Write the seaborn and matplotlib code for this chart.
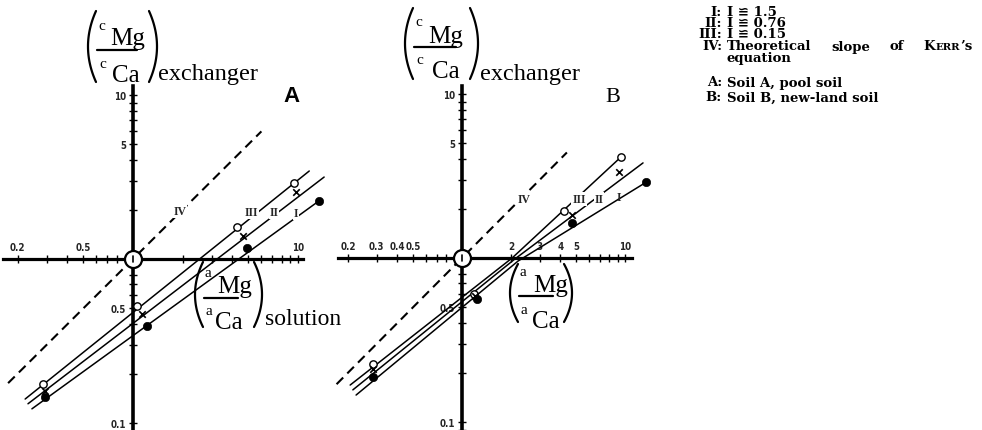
import numpy as np
import matplotlib
matplotlib.use("Agg")
import matplotlib.pyplot as plt
import seaborn as sns
from matplotlib.ticker import FixedLocator, NullFormatter

sns.set_style("white")
plt.rcParams["font.family"] = ["DejaVu Sans"]

W, H = 982, 431

# ---------------- Soil A (pool soil) ----------------
a_iii_x = [0.285, 1.06, 4.27, 9.46]
a_iii_y = [0.173, 0.517, 1.57, 2.91]
a_ii_x = [0.293, 1.13, 4.64, 9.72]
a_ii_y = [0.157, 0.462, 1.38, 2.56]
a_i_x = [0.293, 1.22, 4.91, 13.4]
a_i_y = [0.144, 0.39, 1.17, 2.26]

a_iii_line_x = [0.222, 11.7]
a_iii_line_y = [0.140, 3.44]
a_ii_line_x = [0.231, 14.4]
a_ii_line_y = [0.131, 3.16]
a_i_line_x = [0.244, 13.4]
a_i_line_y = [0.122, 2.26]
a_iv_line_x = [0.175, 6.0]
a_iv_line_y = [0.175, 6.0]

a_xticks = [0.2, 0.5, 10]
a_xticklabels = ["0.2", "0.5", "10"]

# ---------------- Soil B (new-land soil) ----------------
b_iii_x = [0.284, 1.18, 4.22, 9.45]
b_iii_y = [0.226, 0.60, 1.93, 4.13]
b_ii_x = [0.284, 1.20, 4.73, 9.19]
b_ii_y = [0.21, 0.586, 1.83, 3.35]
b_i_x = [0.284, 1.24, 4.73, 13.5]
b_i_y = [0.188, 0.56, 1.63, 2.9]

# each B line is drawn as two straight pieces (low / high ratio)
b_iii_line_x = [0.206, 2.03, 9.45]
b_iii_line_y = [0.168, 1.0, 4.13]
b_ii_line_x = [0.214, 2.11, 12.9]
b_ii_line_y = [0.157, 0.986, 3.8]
b_i_line_x = [0.224, 2.21, 13.5]
b_i_line_y = [0.146, 0.959, 2.9]
b_iv_line_x = [0.17, 4.4]
b_iv_line_y = [0.17, 4.4]

b_xticks = [0.2, 0.3, 0.4, 0.5, 2, 3, 4, 5, 10]
b_xticklabels = ["0.2", "0.3", "0.4", "0.5", "2", "3", "4", "5", "10"]

yticks = [0.1, 0.5, 5, 10]
yticklabels = ["0.1", "0.5", "5", "10"]

fig = plt.figure(figsize=(W / 100, H / 100), dpi=100)
fig.patch.set_facecolor("white")

tick_font = dict(fontsize=7, fontweight="bold", fontstretch="condensed",
                 family=["DejaVu Sans"])


def minor_positions(lo, hi):
    out = []
    for e in range(-2, 3):
        for m in range(2, 10):
            v = m * 10.0 ** e
            if lo <= v <= hi:
                out.append(v)
    return out


def make_panel(left_px, right_px, origin, decade, xspan, yspan, xt, xtl):
    ox, oy = origin
    dx, dy = decade
    ax = fig.add_axes([left_px / W, 0, (right_px - left_px) / W, 1])
    ax.set_xscale("log")
    ax.set_yscale("log")
    ax.patch.set_alpha(0)
    xlim = (10 ** ((left_px - ox) / dx), 10 ** ((right_px - ox) / dx))
    ylim = (10 ** ((oy - H) / dy), 10 ** (oy / dy))
    ax.set_xlim(*xlim)
    ax.set_ylim(*ylim)
    for s in ("right", "bottom"):
        ax.spines[s].set_visible(False)
    ax.spines["left"].set_position(("data", 1.0))
    ax.spines["top"].set_position(("data", 1.0))
    ax.spines["left"].set_linewidth(2.6)
    ax.spines["top"].set_linewidth(2.3)
    ax.spines["left"].set_color("k")
    ax.spines["top"].set_color("k")
    xb = (10 ** ((xspan[0] - ox) / dx), 10 ** ((xspan[1] - ox) / dx))
    yb = (10 ** ((oy - yspan[1]) / dy), 10 ** ((oy - yspan[0]) / dy))
    ax.spines["top"].set_bounds(*xb)
    ax.spines["left"].set_bounds(*yb)
    ax.xaxis.set_ticks_position("top")
    ax.yaxis.set_ticks_position("left")
    ax.set_xticks(xt)
    ax.set_xticklabels(xtl, **tick_font)
    ax.set_yticks(yticks)
    ax.set_yticklabels(yticklabels, **tick_font)
    ax.xaxis.set_minor_locator(FixedLocator(minor_positions(*xb)))
    ax.yaxis.set_minor_locator(FixedLocator(minor_positions(*yb)))
    ax.xaxis.set_minor_formatter(NullFormatter())
    ax.yaxis.set_minor_formatter(NullFormatter())
    ax.tick_params(which="both", direction="inout", length=6, width=1,
                   color="k", pad=2)
    return ax


def draw_series(ax, lines, points, iv):
    lx, ly = iv
    sns.lineplot(x=lx, y=ly, ax=ax, color="k", lw=1.5,
                 linestyle=(0, (4.5, 2.8)), sort=False, estimator=None)
    for x, y in lines:
        sns.lineplot(x=x, y=y, ax=ax, color="k", lw=1.1, sort=False,
                     estimator=None)
    (iii_x, iii_y), (ii_x, ii_y), (i_x, i_y) = points
    sns.scatterplot(x=iii_x, y=iii_y, ax=ax, marker="o", s=28,
                    facecolor="white", edgecolor="k", linewidth=1.0, zorder=3)
    sns.scatterplot(x=ii_x, y=ii_y, ax=ax, marker="x", s=22, color="k",
                    linewidth=1.2, zorder=3)
    sns.scatterplot(x=i_x, y=i_y, ax=ax, marker="o", s=36, color="k",
                    edgecolor="k", zorder=3)
    # origin ring where the two axes cross
    sns.scatterplot(x=[1.0], y=[1.0], ax=ax, marker="o", s=150,
                    facecolor="white", edgecolor="k", linewidth=1.6, zorder=4)
    ax.plot([1.0, 1.0], [0.96, 1.04], color="k", lw=1.2, zorder=5)
    ax.set_xlabel("")
    ax.set_ylabel("")


axA = make_panel(0, 340, (133, 260), (165, 164), (3, 303), (87, 431),
                 a_xticks, a_xticklabels)
draw_series(axA,
            [(a_iii_line_x, a_iii_line_y), (a_ii_line_x, a_ii_line_y),
             (a_i_line_x, a_i_line_y)],
            [(a_iii_x, a_iii_y), (a_ii_x, a_ii_y), (a_i_x, a_i_y)],
            (a_iv_line_x, a_iv_line_y))

axB = make_panel(335, 690, (462, 259), (163, 164), (338, 632), (87, 431),
                 b_xticks, b_xticklabels)
draw_series(axB,
            [(b_iii_line_x, b_iii_line_y), (b_ii_line_x, b_ii_line_y),
             (b_i_line_x, b_i_line_y)],
            [(b_iii_x, b_iii_y), (b_ii_x, b_ii_y), (b_i_x, b_i_y)],
            (b_iv_line_x, b_iv_line_y))

# ---------------- annotation layer in pixel units ----------------
ov = fig.add_axes([0, 0, 1, 1])
ov.set_xlim(0, W)
ov.set_ylim(H, 0)
ov.axis("off")
ov.patch.set_alpha(0)

SERIF = ["Liberation Serif", "DejaVu Serif"]
renderer = fig.canvas.get_renderer()


def T(x, y, s, size, **kw):
    kw.setdefault("ha", "left")
    kw.setdefault("va", "baseline")
    kw.setdefault("family", SERIF)
    return ov.text(x, y, s, fontsize=size, color="k", **kw)


def paren(x_tip, x_end, y0, y1):
    yy = np.linspace(y0, y1, 50)
    t = (yy - (y0 + y1) / 2) / ((y1 - y0) / 2)
    xx = x_tip + (x_end - x_tip) * t ** 2
    ov.plot(xx, yy, color="k", lw=1.6, solid_capstyle="round")


def ratio_label(x0, y_top, y_bot, sup, num_dx, den_dx, close_x, bar_w):
    paren(x0, x0 + 8, y_top, y_bot)
    mid = (y_top + y_bot) / 2
    T(x0 + 10, mid - 18, sup, 11)
    T(x0 + num_dx, mid - 2, "Mg", 18)
    ov.plot([x0 + 9, x0 + 9 + bar_w], [mid + 3, mid + 3], color="k", lw=1.6)
    T(x0 + 11, mid + 20, sup, 11)
    T(x0 + den_dx, mid + 34, "Ca", 18)
    paren(close_x, close_x - 8, y_top, y_bot)


# Panel A axis titles
ratio_label(88, 12, 83, "c", 22, 24, 157, 40)
T(158, 80, "exchanger", 17.5)
T(283, 102, "A", 16, fontweight="bold", family=["Liberation Sans", "DejaVu Sans"])
ratio_label(195, 263, 328, "a", 22, 20, 262, 34)
T(265, 325, "solution", 17)

# Panel B axis titles
ratio_label(405, 9, 80, "c", 23, 27, 478, 42)
T(480, 80, "exchanger", 17.5)
T(605, 102, "B", 16)
ratio_label(510, 265, 323, "a", 23, 22, 572, 34)

# line numerals
num_kw = dict(ha="center", va="center", fontweight="bold",
              fontstretch="condensed", family=SERIF,
              bbox=dict(boxstyle="square,pad=0.08", fc="white", ec="none"))
for x, y, s in [(180, 212, "IV"), (251, 213, "III"), (274, 213, "II"),
                (296, 214, "I"), (524, 200, "IV"), (579, 200, "III"),
                (599, 200, "II")]:
    ov.text(x, y, s, fontsize=8.5, **num_kw)
ov.text(619, 198, "I", fontsize=8.5, ha="center", va="center",
        fontweight="bold", family=SERIF)

# key in the upper right corner
KEYFAM = ["DejaVu Serif", "DejaVu Sans"]
key_kw = dict(fontweight="bold", family=KEYFAM, va="center")
key_size = 9.5
KEY_X = 727
rows = [(12, "I:", "I \u224C 1.5"), (23.5, "II:", "I \u224C 0.76"),
        (35, "III:", "I \u224C 0.15")]
for y, lab, txt in rows:
    T(KEY_X - 5, y, lab, key_size, ha="right", **key_kw)
    T(KEY_X, y, txt, key_size, **key_kw)


def width(t):
    return t.get_window_extent(renderer=renderer).width


# justified line: "Theoretical  slope  of  KERR's"
y4 = 47
T(KEY_X - 5, y4, "IV:", key_size, ha="right", **key_kw)
words = [T(KEY_X, y4, "Theoretical", key_size, **key_kw),
         T(KEY_X, y4, "slope", key_size, **key_kw),
         T(KEY_X, y4, "of", key_size, **key_kw)]
kerr = [T(KEY_X, y4, "K", key_size, **key_kw),
        T(KEY_X, y4 + 0.6, "ERR", 7.4, **key_kw),
        T(KEY_X, y4, "\u2019s", key_size, **key_kw)]
kerr_w = sum(width(t) for t in kerr) + 1
right_edge = 973
total = sum(width(t) for t in words) + kerr_w
gap = (right_edge - KEY_X - total) / 3
x = KEY_X
for t in words:
    t.set_x(x)
    x += width(t) + gap
for t in kerr:
    t.set_x(x)
    x += width(t) + 0.5
T(KEY_X, 58.5, "equation", key_size, **key_kw)
T(KEY_X - 5, 83, "A:", key_size, ha="right", **key_kw)
T(KEY_X, 83, "Soil A, pool soil", key_size, **key_kw)
T(KEY_X - 5, 98, "B:", key_size, ha="right", **key_kw)
T(KEY_X, 98, "Soil B, new-land soil", key_size, **key_kw)

fig.savefig("out.png", dpi=100, facecolor="white")
